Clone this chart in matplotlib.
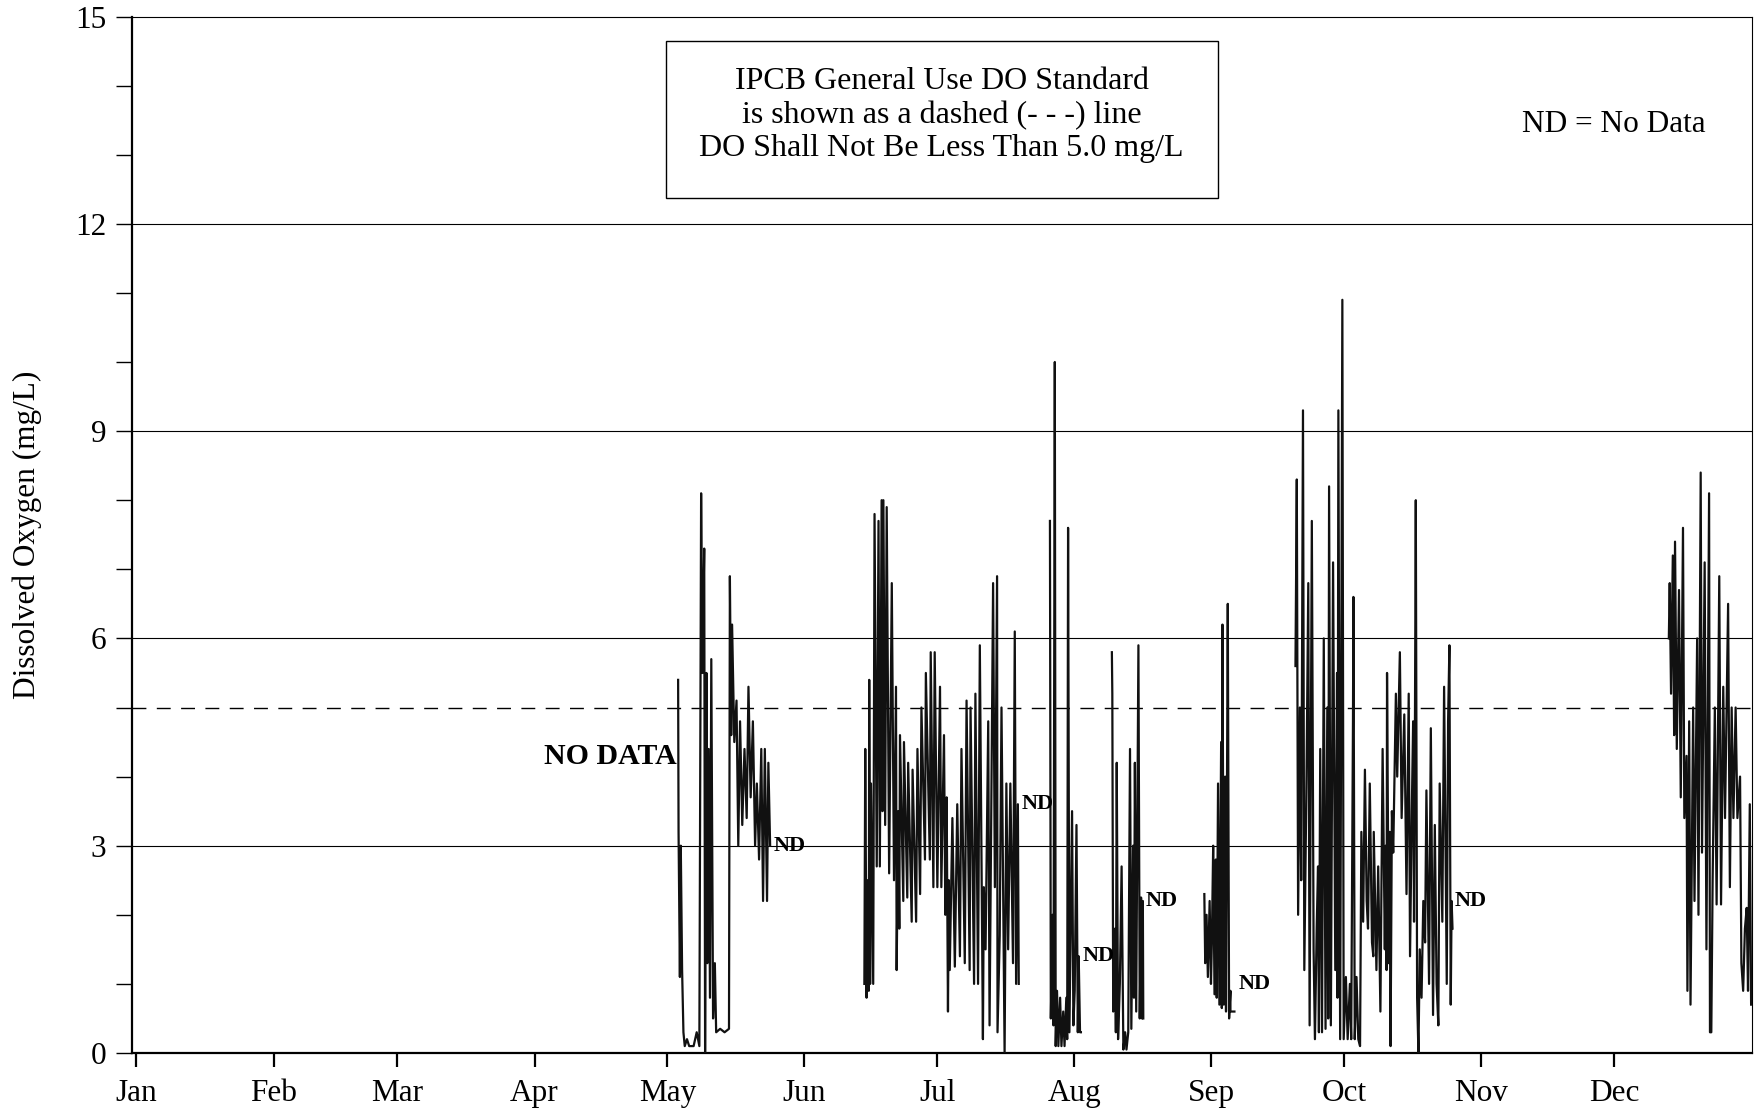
import matplotlib
matplotlib.use('Agg')
import matplotlib.pyplot as plt
from matplotlib.patches import Rectangle
from matplotlib.ticker import MultipleLocator

plt.rcParams['font.family'] = ['Liberation Serif', 'DejaVu Serif']

# ---------------- data (day of year, DO mg/L) ----------------
months = ['Jan', 'Feb', 'Mar', 'Apr', 'May', 'Jun', 'Jul', 'Aug', 'Sep', 'Oct', 'Nov', 'Dec']
month_start_day = [0, 31, 59, 90, 120, 151, 181, 212, 243, 273, 304, 334]
y_ticks = [0, 3, 6, 9, 12, 15]
do_standard = 5.0

may_t = [122.45, 122.55, 122.85, 123.05, 123.35, 123.65, 123.95, 124.45, 124.95, 125.95,
         126.65, 127.25, 127.65, 127.95, 128.35, 128.55, 128.85, 129.05, 129.35, 129.65,
         129.95, 130.35, 130.75, 131.05, 131.95, 132.95, 133.95, 134.15, 134.45, 134.65,
         135.15, 135.65, 136.05, 136.45, 136.95, 137.45, 137.95, 138.35, 138.85, 139.35,
         139.85, 140.25, 140.75, 141.25, 141.65, 142.05, 142.55, 142.85, 143.25]
may_v = [5.4, 3.2, 1.1, 3.0, 1.2, 0.3, 0.1, 0.2, 0.1, 0.1,
         0.3, 0.1, 8.1, 5.5, 7.3, 0.0, 5.5, 1.3, 4.4, 0.8,
         5.7, 0.5, 1.3, 0.3, 0.35, 0.3, 0.35, 6.9, 4.6, 6.2,
         4.5, 5.1, 3.0, 4.8, 3.3, 4.4, 3.4, 5.3, 3.7, 4.8,
         3.0, 3.9, 2.8, 4.4, 2.2, 4.4, 2.2, 4.2, 3.0]

jul_t = [164.55, 164.75, 165.05, 165.35, 165.55, 165.65, 165.85, 166.05, 166.55, 166.85,
         167.35, 167.75, 168.05, 168.45, 168.65, 168.85, 169.25, 169.6, 170.15, 170.75,
         171.25, 171.7, 171.85, 172.2, 172.45, 172.6, 173.35, 173.5, 174.25, 174.45,
         175.25, 175.45, 176.25, 176.55, 177.15, 177.45, 178.25, 178.45, 179.35, 179.55,
         180.15, 180.45, 181.05, 181.65, 181.95, 182.55, 182.85, 183.15, 183.45, 183.65,
         183.85, 184.45, 185.0, 185.55, 186.15, 186.5, 187.25, 187.65, 188.35, 188.55,
         189.35, 189.65, 190.25, 190.65, 191.35, 191.55, 191.95, 192.55, 192.85, 193.65,
         194.05, 194.55, 194.65, 195.15, 195.55, 196.25, 196.65, 197.05, 197.55, 198.15,
         198.55, 198.85, 199.25, 199.45]
jul_v = [1.0, 4.4, 0.8, 2.5, 0.9, 5.4, 1.0, 3.9, 1.0, 7.8,
         2.7, 7.7, 2.7, 8.0, 3.5, 8.0, 3.3, 7.9, 2.6, 6.8,
         2.5, 5.3, 1.2, 3.5, 1.8, 4.6, 2.2, 4.5, 2.25, 4.2,
         1.9, 4.1, 1.9, 4.4, 2.3, 5.0, 2.8, 5.5, 2.8, 5.8,
         2.4, 5.8, 2.4, 5.3, 2.4, 4.6, 2.0, 3.7, 0.6, 2.5,
         1.2, 3.4, 1.25, 3.6, 1.4, 4.4, 1.3, 5.1, 1.2, 5.0,
         1.0, 5.2, 1.0, 5.9, 0.2, 2.4, 1.5, 4.8, 0.4, 6.8,
         2.4, 6.9, 0.3, 1.7, 5.0, 0.0, 3.9, 1.5, 3.9, 1.3,
         6.1, 1.0, 3.6, 1.0]

aug1_t = [206.5, 206.7, 207.1, 207.3, 207.6, 207.8, 208.1, 208.4, 208.8, 209.1,
          209.5, 209.8, 210.2, 210.4, 210.6, 210.9, 211.5, 211.8, 212.1, 212.5,
          212.8, 213.0, 213.3, 213.5]
aug1_v = [7.7, 0.5, 2.0, 0.4, 10.0, 0.1, 0.9, 0.1, 0.8, 0.1,
          0.6, 0.1, 0.8, 0.2, 7.6, 0.3, 3.5, 0.4, 0.9, 3.3,
          0.3, 1.4, 0.3, 0.3]

aug2_t = [220.5, 220.6, 220.8, 221.2, 221.4, 221.6, 221.9, 222.3, 222.7, 223.1,
          223.5, 223.8, 224.2, 224.6, 224.9, 225.3, 225.5, 225.7, 226.0, 226.5,
          226.8, 227.1, 227.3, 227.5, 227.6]
aug2_v = [5.8, 5.2, 0.6, 1.8, 0.3, 4.2, 0.2, 1.0, 2.7, 0.05,
          0.3, 0.05, 0.3, 4.4, 0.35, 3.0, 0.8, 4.2, 0.6, 5.9,
          0.5, 2.25, 0.5, 2.2, 0.5]

sep_t = [241.4, 241.6, 241.9, 242.2, 242.6, 242.9, 243.1, 243.4, 243.7, 244.0,
         244.2, 244.5, 244.8, 245.2, 245.35, 245.5, 245.8, 246.1, 246.3, 246.6,
         246.7, 247.0, 247.3, 247.3, 248.2]
sep_v = [2.3, 1.3, 2.0, 1.1, 2.2, 1.0, 1.6, 3.0, 0.85, 2.8,
         0.8, 3.9, 0.7, 4.5, 0.65, 6.2, 0.7, 4.0, 0.6, 5.0,
         6.5, 0.5, 0.9, 0.6, 0.6]

oct_t = [262.0, 262.3, 262.6, 263.0, 263.3, 263.7, 264.0, 264.5, 264.9, 265.2,
         265.7, 266.1, 266.4, 266.8, 267.1, 267.3, 267.6, 268.0, 268.4, 268.8,
         269.2, 269.4, 269.6, 270.0, 270.5, 271.0, 271.4, 271.5, 271.7, 272.1,
         272.6, 272.9, 273.4, 273.8, 274.3, 274.6, 275.0, 275.1, 275.4, 275.8,
         276.2, 276.6, 276.9, 277.3, 277.7, 278.1, 278.4, 278.8, 279.3, 279.6,
         279.7, 280.3, 280.7, 281.2, 281.7, 282.2, 282.4, 282.6, 282.7, 283.1,
         283.3, 283.5, 283.8, 284.1, 284.7, 285.0, 285.6, 286.0, 286.6, 287.1,
         287.6, 287.9, 288.3, 288.6, 288.8, 289.0, 289.2, 289.5, 289.8, 290.1,
         290.5, 290.9, 291.3, 291.6, 292.2, 292.6, 293.1, 293.5, 293.9, 294.3,
         294.6, 295.2, 295.6, 296.2, 296.5, 296.8, 297.1, 297.3, 297.5]
oct_v = [5.6, 8.3, 2.0, 5.0, 2.5, 9.3, 1.2, 4.0, 6.8, 0.4,
         7.7, 1.5, 0.2, 1.8, 2.7, 0.3, 4.4, 0.3, 6.0, 0.35,
         5.0, 0.5, 8.2, 0.4, 7.1, 1.2, 5.5, 0.8, 9.3, 0.2,
         10.9, 0.2, 1.1, 0.2, 1.0, 0.2, 4.8, 6.6, 0.2, 1.1,
         0.2, 0.1, 3.2, 1.9, 4.1, 2.2, 1.8, 3.9, 1.6, 1.4,
         3.2, 1.2, 2.7, 0.6, 4.4, 1.5, 3.0, 1.2, 5.5, 1.3,
         3.2, 0.1, 3.5, 2.9, 5.2, 4.0, 5.8, 3.4, 4.9, 2.3,
         5.2, 1.4, 3.5, 4.8, 1.9, 4.6, 8.0, 0.8, 0.0, 1.5,
         0.8, 2.2, 1.6, 3.8, 1.0, 4.7, 0.55, 3.3, 1.0, 0.4,
         3.9, 1.9, 5.3, 1.0, 4.8, 5.9, 0.7, 2.2, 1.8]

dec_t = [346.4, 346.6, 346.9, 347.3, 347.6, 347.8, 348.2, 348.7, 349.1, 349.6,
         349.9, 350.4, 350.6, 351.0, 351.3, 351.9, 352.2, 352.8, 353.1, 353.6,
         353.9, 354.5, 354.9, 355.5, 355.7, 356.0, 356.3, 356.8, 357.2, 357.8,
         358.2, 358.7, 359.1, 359.8, 360.2, 360.6, 361.0, 361.5, 361.9, 362.5,
         362.8, 363.2, 363.6, 364.0, 364.3, 364.7, 365.0]
dec_v = [6.0, 6.8, 5.2, 7.2, 4.6, 7.4, 4.4, 6.7, 3.7, 7.6,
         3.4, 4.3, 0.9, 4.8, 0.7, 5.0, 2.2, 6.0, 2.0, 8.4,
         2.9, 7.1, 1.5, 8.1, 0.3, 0.3, 2.5, 5.0, 2.15, 6.9,
         2.15, 5.3, 3.4, 6.5, 2.4, 5.0, 3.4, 5.0, 3.4, 4.0,
         1.3, 0.9, 1.8, 2.1, 0.9, 3.6, 0.7]

segments = [(may_t, may_v), (jul_t, jul_v), (aug1_t, aug1_v), (aug2_t, aug2_v),
            (sep_t, sep_v), (oct_t, oct_v), (dec_t, dec_v)]

# "ND" labels: (day, value)
nd_day = [144.1, 200.0, 213.9, 228.1, 249.1, 297.9]
nd_val = [3.0, 3.6, 1.4, 2.2, 1.0, 2.2]

# ---------------- figure ----------------
W, H = 1754, 1110
fig = plt.figure(figsize=(W / 100, H / 100), dpi=100)
ax = fig.add_axes([132 / W, 57 / H, 1620 / W, (1093.5 - 57) / H])

for gy in [3, 6, 9, 12]:
    ax.axhline(gy, color='black', lw=0.8, zorder=1)
ax.axhline(do_standard, color='black', lw=1.0, dashes=(10, 7.5), zorder=2)

for t, v in segments:
    ax.plot(t, v, color='#111111', lw=1.6, zorder=3)

for d, val in zip(nd_day, nd_val):
    ax.text(d, val, 'ND', fontsize=16, fontweight='bold', ha='left', va='center', zorder=4)

ax.text(107.1, 4.29, 'NO DATA', fontsize=21.5, fontweight='bold', ha='center', va='center')
ax.text(334.0, 13.44, 'ND = No Data', fontsize=22.5, ha='center', va='center')

ax.add_patch(Rectangle((119.6, 12.38), 244.5 - 119.6, 14.64 - 12.38,
                       fill=False, lw=1.0, edgecolor='black', zorder=4))
ax.text(182.0, 13.57,
        'IPCB General Use DO Standard\nis shown as a dashed (- - -) line\nDO Shall Not Be Less Than 5.0 mg/L',
        fontsize=23, ha='center', va='center', linespacing=1.19, zorder=5)

ax.set_xlim(-1.0, 365.2)
ax.set_ylim(0, 15)

ax.set_yticks(y_ticks)
ax.yaxis.set_minor_locator(MultipleLocator(1))
ax.set_xticks(month_start_day)
ax.set_xticklabels(months)

ax.tick_params(axis='y', which='both', direction='out', length=11.5, width=1.0,
               labelsize=22.5, pad=7, right=False)
ax.tick_params(axis='x', which='both', direction='out', length=10, width=1.6,
               labelsize=22.5, pad=9, top=False)

for s in ['left', 'bottom']:
    ax.spines[s].set_linewidth(1.6)
for s in ['top', 'right']:
    ax.spines[s].set_linewidth(0.8)

ax.set_ylabel('Dissolved Oxygen (mg/L)', fontsize=22.5, labelpad=24)

fig.savefig('out.png', dpi=100)
